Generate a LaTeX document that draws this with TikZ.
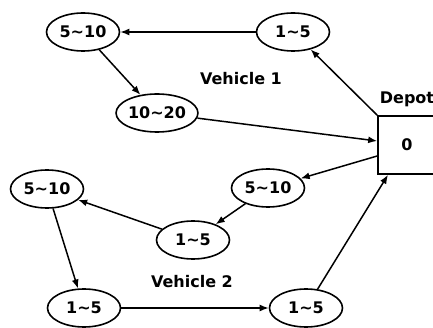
\documentclass[tikz,border=0pt]{standalone}
\usepackage{fontspec}
\setmainfont{DejaVu Sans}
\usetikzlibrary{shapes.geometric,arrows.meta}
\tikzset{
  stop/.style={ellipse, draw, line width=1.6pt, minimum width=73pt, minimum height=38pt, inner sep=0pt, font=\bfseries\fontsize{16}{19}\selectfont},
  depotbox/.style={rectangle, draw, line width=1.6pt, minimum width=58pt, minimum height=58pt, inner sep=0pt, font=\bfseries\fontsize{16}{19}\selectfont},
  tag/.style={font=\bfseries\fontsize{16}{19}\selectfont},
  route/.style={line width=1.5pt, -{Latex[length=9pt,width=7pt]}},
}
\newcommand{\tl}{\textasciitilde}
\begin{document}
\begin{tikzpicture}[x=1pt,y=-1pt]
  \useasboundingbox (0,0) rectangle (433,328);
  \clip (0,0) rectangle (433,328);
  % depot
  \node[depotbox] (depot) at (407,145) {0};
  \node[tag, anchor=south] (depotlbl) at ([yshift=5pt]depot.north) {Depot};
  % vehicle 1 route
  \node[stop] (v1a) at (293,32) {1\tl5};
  \node[stop] (v1b) at (83,32) {5\tl10};
  \node[stop] (v1c) at (157,113) {10\tl20};
  \node[tag] (veh1) at (241,79) {Vehicle 1};
  % vehicle 2 route
  \node[stop] (v2a) at (268,188) {5\tl10};
  \node[stop] (v2b) at (193,240) {1\tl5};
  \node[stop] (v2c) at (47,189) {5\tl10};
  \node[stop] (v2d) at (84,308) {1\tl5};
  \node[stop] (v2e) at (306,308) {1\tl5};
  \node[tag] (veh2) at (192,282) {Vehicle 2};
  % connectors
  \draw[route] (depot.north west) -- (v1a);
  \draw[route] (v1a) -- (v1b);
  \draw[route] (v1b) -- (v1c);
  \draw[route] (v1c) -- ([yshift=4pt]depot.west);
  \draw[route] ([yshift=-11pt]depot.west) -- (v2a);
  \draw[route] (v2a) -- (v2b);
  \draw[route] (v2b) -- (v2c);
  \draw[route] (v2c) -- (v2d);
  \draw[route] (v2d) -- (v2e);
  \draw[route] (v2e) -- ([xshift=-19pt]depot.south);
\end{tikzpicture}
\end{document}
